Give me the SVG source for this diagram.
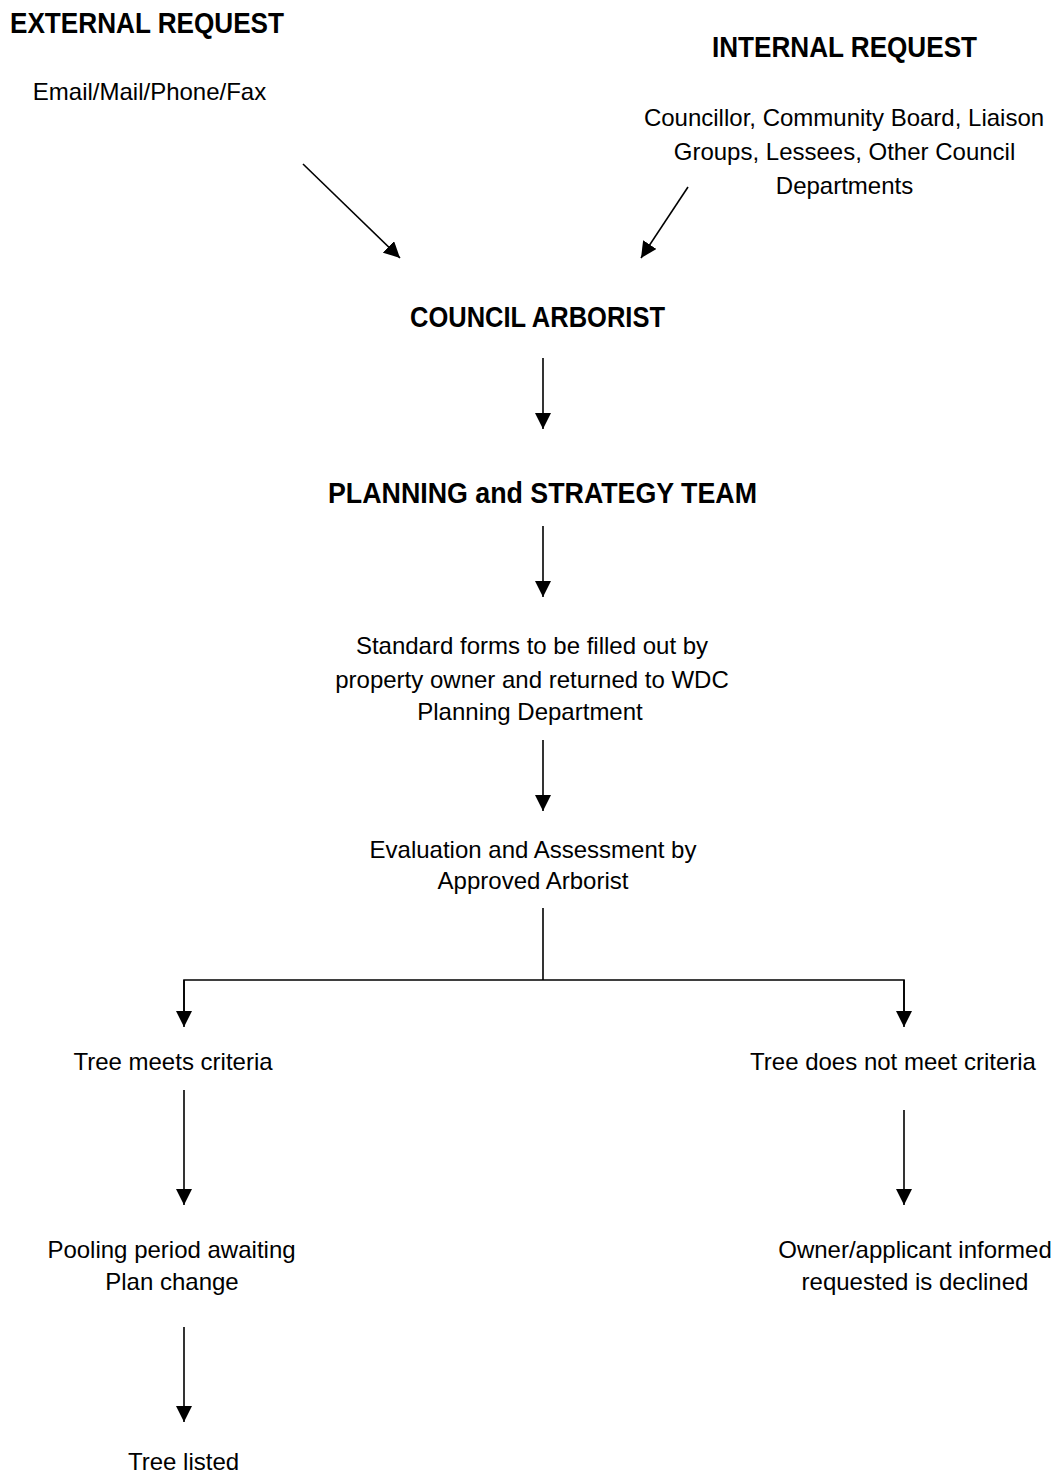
<svg xmlns="http://www.w3.org/2000/svg" width="1064" height="1474" viewBox="0 0 1064 1474">
<style>
text{font-family:"Liberation Sans",Arial,sans-serif;fill:#000;text-anchor:middle}
.h{font-size:29px;font-weight:bold}
.t{font-size:24px}
.c line,.c path{stroke:#000;stroke-width:1.6;fill:none}
</style>
<defs>
<marker id="ah" viewBox="0 0 16 16" refX="16" refY="8" markerWidth="16" markerHeight="16" markerUnits="userSpaceOnUse" orient="auto">
<path d="M0,0 L16,8 L0,16 z" fill="#000"/>
</marker>
</defs>
<rect width="1064" height="1474" fill="#fff"/>
<g id="external">
<text class="h" x="147" y="33" textLength="274" lengthAdjust="spacingAndGlyphs">EXTERNAL REQUEST</text>
<text class="t" x="149.5" y="100">Email/Mail/Phone/Fax</text>
</g>
<g id="internal">
<text class="h" x="844.5" y="57" textLength="265" lengthAdjust="spacingAndGlyphs">INTERNAL REQUEST</text>
<text class="t" x="844" y="126">Councillor, Community Board, Liaison</text>
<text class="t" x="844.5" y="160">Groups, Lessees, Other Council</text>
<text class="t" x="844.5" y="194">Departments</text>
</g>
<g id="arborist">
<text class="h" x="537.5" y="327" textLength="255" lengthAdjust="spacingAndGlyphs">COUNCIL ARBORIST</text>
</g>
<g id="planning">
<text class="h" x="542.5" y="503" textLength="429" lengthAdjust="spacingAndGlyphs">PLANNING and STRATEGY TEAM</text>
</g>
<g id="forms">
<text class="t" x="532" y="654">Standard forms to be filled out by</text>
<text class="t" x="532" y="688">property owner and returned to WDC</text>
<text class="t" x="530" y="720">Planning Department</text>
</g>
<g id="evaluation">
<text class="t" x="533" y="858">Evaluation and Assessment by</text>
<text class="t" x="533" y="889">Approved Arborist</text>
</g>
<g id="meets">
<text class="t" x="173" y="1070">Tree meets criteria</text>
</g>
<g id="notmeets">
<text class="t" x="893" y="1070">Tree does not meet criteria</text>
</g>
<g id="pooling">
<text class="t" x="171.5" y="1258">Pooling period awaiting</text>
<text class="t" x="172" y="1290">Plan change</text>
</g>
<g id="declined">
<text class="t" x="915" y="1258">Owner/applicant informed</text>
<text class="t" x="915" y="1290">requested is declined</text>
</g>
<g id="listed">
<text class="t" x="183.5" y="1470">Tree listed</text>
</g>
<g id="connectors" class="c">
<line x1="303" y1="164" x2="400" y2="258" marker-end="url(#ah)"/>
<line x1="688" y1="187" x2="641" y2="258" marker-end="url(#ah)"/>
<line x1="543" y1="358" x2="543" y2="429" marker-end="url(#ah)"/>
<line x1="543" y1="526" x2="543" y2="597" marker-end="url(#ah)"/>
<line x1="543" y1="740" x2="543" y2="811" marker-end="url(#ah)"/>
<line x1="543" y1="908" x2="543" y2="980"/>
<path d="M184,1012 V980 H904 V1012"/>
<line x1="184" y1="980" x2="184" y2="1027" marker-end="url(#ah)"/>
<line x1="904" y1="980" x2="904" y2="1027" marker-end="url(#ah)"/>
<line x1="184" y1="1090" x2="184" y2="1205" marker-end="url(#ah)"/>
<line x1="904" y1="1110" x2="904" y2="1205" marker-end="url(#ah)"/>
<line x1="184" y1="1327" x2="184" y2="1422" marker-end="url(#ah)"/>
</g>
</svg>
